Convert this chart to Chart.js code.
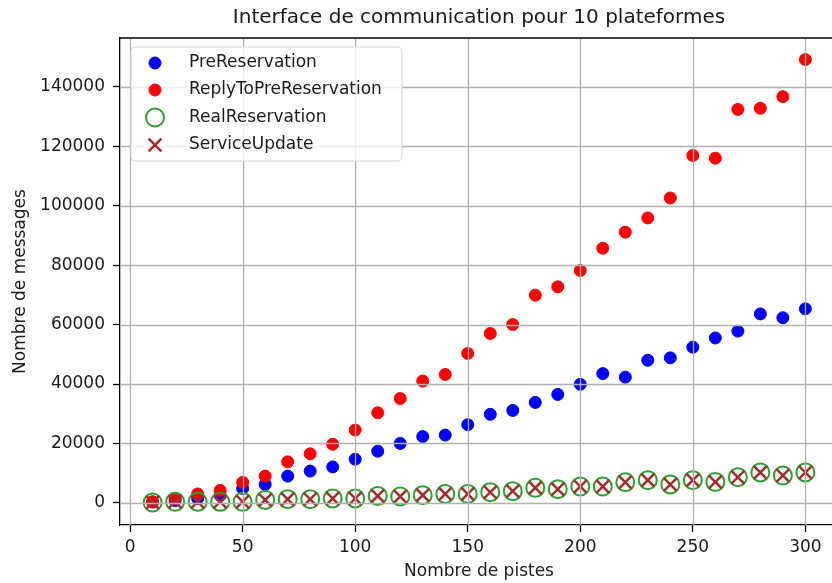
<!DOCTYPE html>
<html>
<head>
<meta charset="utf-8">
<script src="https://cdn.jsdelivr.net/npm/chart.js@4/dist/chart.umd.min.js"></script>
<style>
  html, body { margin: 0; padding: 0; background: #fff; overflow: hidden; width: 832px; height: 583px; }
  #wrap { position: relative; width: 832px; height: 583px; overflow: hidden; }
  #c { position: absolute; left: 0; top: 0; }
</style>
</head>
<body>
<div id="wrap"><canvas id="c" width="840" height="583" style="width:840px;height:583px"></canvas></div>
<script>
// Number of tracks (x) and message counts per message type
const pistes = [10, 20, 30, 40, 50, 60, 70, 80, 90, 100, 110, 120, 130, 140, 150,
                160, 170, 180, 190, 200, 210, 220, 230, 240, 250, 260, 270, 280, 290, 300];

const preReservation = [250, 800, 1500, 2500, 4850, 6200, 9000, 10700, 12100, 14700,
                        17400, 20000, 22300, 22800, 26300, 29800, 31100, 33800, 36500, 39900,
                        43500, 42300, 48000, 48800, 52400, 55500, 57800, 63600, 62300, 65300];

const replyToPreReservation = [400, 1500, 3000, 4200, 6900, 9000, 13800, 16500, 19700, 24500,
                               30300, 35100, 41000, 43200, 50300, 57000, 60000, 69900, 72700, 78200,
                               85700, 91100, 95900, 102600, 116900, 116000, 132400, 132800, 136700, 149200];

const realReservation = [130, 340, 340, 340, 340, 1000, 1250, 1250, 1500, 1500,
                         2350, 2150, 2600, 3000, 3000, 3600, 3950, 5050, 4600, 5500,
                         5500, 6950, 7650, 6200, 7650, 7050, 8650, 10250, 9200, 10250];

const serviceUpdate = [130, 340, 340, 340, 340, 1000, 1250, 1250, 1500, 1500,
                       2350, 2150, 2600, 3000, 3000, 3600, 3950, 5050, 4600, 5500,
                       5500, 6950, 7650, 6200, 7650, 7050, 8650, 10250, 9200, 10250];

const xTicks = [0, 50, 100, 150, 200, 250, 300];
const yTicks = [0, 20000, 40000, 60000, 80000, 100000, 120000, 140000];

const titleText = 'Interface de communication pour 10 plateformes';
const xLabel = 'Nombre de pistes';
const yLabel = 'Nombre de messages';

const FONT = "'DejaVu Sans', sans-serif";
const TEXT = '#1a1a1a';

const toPoints = ys => pistes.map((x, i) => ({ x: x, y: ys[i] }));

const series = [
  { label: 'PreReservation', data: preReservation, style: 'circle', fill: '#0000ff', stroke: '#0000ff', radius: 6, width: 1, order: 4 },
  { label: 'ReplyToPreReservation', data: replyToPreReservation, style: 'circle', fill: '#ff0000', stroke: '#ff0000', radius: 6, width: 1, order: 3 },
  { label: 'RealReservation', data: realReservation, style: 'circle', fill: 'rgba(0,0,0,0)', stroke: '#2ca02c', radius: 9, width: 2, order: 2 },
  { label: 'ServiceUpdate', data: serviceUpdate, style: 'crossRot', fill: '#a52a2a', stroke: '#a52a2a', radius: 9, width: 2.5, order: 1 }
];

// Grid lines painted over the markers, at the scale tick positions
const gridOnTop = {
  id: 'gridOnTop',
  afterDatasetsDraw(chart) {
    const { ctx, chartArea: a, scales } = chart;
    ctx.save();
    ctx.strokeStyle = '#b0b0b0';
    ctx.lineWidth = 1.3;
    ctx.beginPath();
    scales.x.ticks.forEach(t => {
      const px = Math.round(scales.x.getPixelForValue(t.value)) + 0.5;
      ctx.moveTo(px, a.top); ctx.lineTo(px, a.bottom);
    });
    scales.y.ticks.forEach(t => {
      const py = Math.round(scales.y.getPixelForValue(t.value)) + 0.5;
      ctx.moveTo(a.left, py); ctx.lineTo(a.right, py);
    });
    ctx.stroke();
    // top and right spines
    ctx.strokeStyle = '#000';
    ctx.lineWidth = 1.3;
    ctx.beginPath();
    ctx.moveTo(a.left, a.top); ctx.lineTo(a.right, a.top);
    ctx.moveTo(a.right, a.top); ctx.lineTo(a.right, a.bottom);
    ctx.stroke();
    ctx.restore();
  }
};

// Title centred over the plotting area, plus the boxed legend in the upper left
const overlay = {
  id: 'overlay',
  afterDraw(chart) {
    const { ctx, chartArea: a } = chart;
    ctx.save();
    ctx.fillStyle = TEXT;
    ctx.font = '20px ' + FONT;
    ctx.textAlign = 'center';
    ctx.textBaseline = 'middle';
    ctx.fillText(titleText, (a.left + a.right) / 2, 18);

    // legend frame
    const bx = 131, by = 47, bw = 271, bh = 114, r = 4;
    ctx.beginPath();
    ctx.moveTo(bx + r, by);
    ctx.arcTo(bx + bw, by, bx + bw, by + bh, r);
    ctx.arcTo(bx + bw, by + bh, bx, by + bh, r);
    ctx.arcTo(bx, by + bh, bx, by, r);
    ctx.arcTo(bx, by, bx + bw, by, r);
    ctx.closePath();
    ctx.fillStyle = 'rgba(255,255,255,0.8)';
    ctx.fill();
    ctx.strokeStyle = '#d6d6d6';
    ctx.lineWidth = 1;
    ctx.stroke();

    const rows = [63, 90, 117.5, 145];
    const mx = 155;
    series.forEach((s, i) => {
      const y = rows[i];
      ctx.lineWidth = s.width;
      ctx.strokeStyle = s.stroke;
      ctx.fillStyle = s.fill;
      if (s.style === 'circle') {
        ctx.beginPath();
        ctx.arc(mx, y, s.radius, 0, Math.PI * 2);
        ctx.fill();
        ctx.stroke();
      } else {
        const d = s.radius * Math.SQRT1_2;
        ctx.beginPath();
        ctx.moveTo(mx - d, y - d); ctx.lineTo(mx + d, y + d);
        ctx.moveTo(mx - d, y + d); ctx.lineTo(mx + d, y - d);
        ctx.stroke();
      }
      ctx.fillStyle = TEXT;
      ctx.font = '17px ' + FONT;
      ctx.textAlign = 'left';
      ctx.textBaseline = 'middle';
      ctx.fillText(s.label, 189, y);
    });
    ctx.restore();
  }
};

new Chart(document.getElementById('c'), {
  type: 'scatter',
  data: {
    datasets: series.map(s => ({
      label: s.label,
      data: toPoints(s.data),
      pointStyle: s.style,
      pointRadius: s.radius,
      pointHoverRadius: s.radius,
      pointBackgroundColor: s.fill,
      pointBorderColor: s.stroke,
      pointBorderWidth: s.width,
      backgroundColor: s.fill,
      borderColor: s.stroke,
      order: s.order
    }))
  },
  options: {
    responsive: false,
    animation: false,
    events: [],
    layout: { autoPadding: false, padding: { top: 38, right: 2, left: 0, bottom: 0 } },
    plugins: {
      legend: { display: false },
      title: { display: false },
      tooltip: { enabled: false }
    },
    scales: {
      x: {
        type: 'linear',
        min: -4.5,
        max: 314.5,
        afterBuildTicks: s => { s.ticks = xTicks.map(v => ({ value: v })); },
        afterFit: s => { s.height = 58; s.paddingLeft = 0; s.paddingRight = 0; },
        ticks: { color: TEXT, font: { family: FONT, size: 17 }, padding: 5, callback: v => String(v) },
        grid: { drawOnChartArea: false, tickColor: '#000', tickLength: 7, tickWidth: 1.3 },
        border: { color: '#000', width: 1.3 },
        title: { display: true, text: xLabel, color: TEXT, font: { family: FONT, size: 17 }, padding: { top: 0, bottom: 1 } }
      },
      y: {
        type: 'linear',
        min: -7450,
        max: 156450,
        afterBuildTicks: s => { s.ticks = yTicks.map(v => ({ value: v })); },
        afterFit: s => { s.width = 120; },
        ticks: { color: TEXT, font: { family: FONT, size: 17 }, padding: 8, callback: v => String(v) },
        grid: { drawOnChartArea: false, tickColor: '#000', tickLength: 7, tickWidth: 1.3 },
        border: { color: '#000', width: 1.3 },
        title: { display: true, text: yLabel, color: TEXT, font: { family: FONT, size: 17 }, padding: { top: 10, bottom: 0 } }
      }
    }
  },
  plugins: [gridOnTop, overlay]
});
</script>
</body>
</html>
